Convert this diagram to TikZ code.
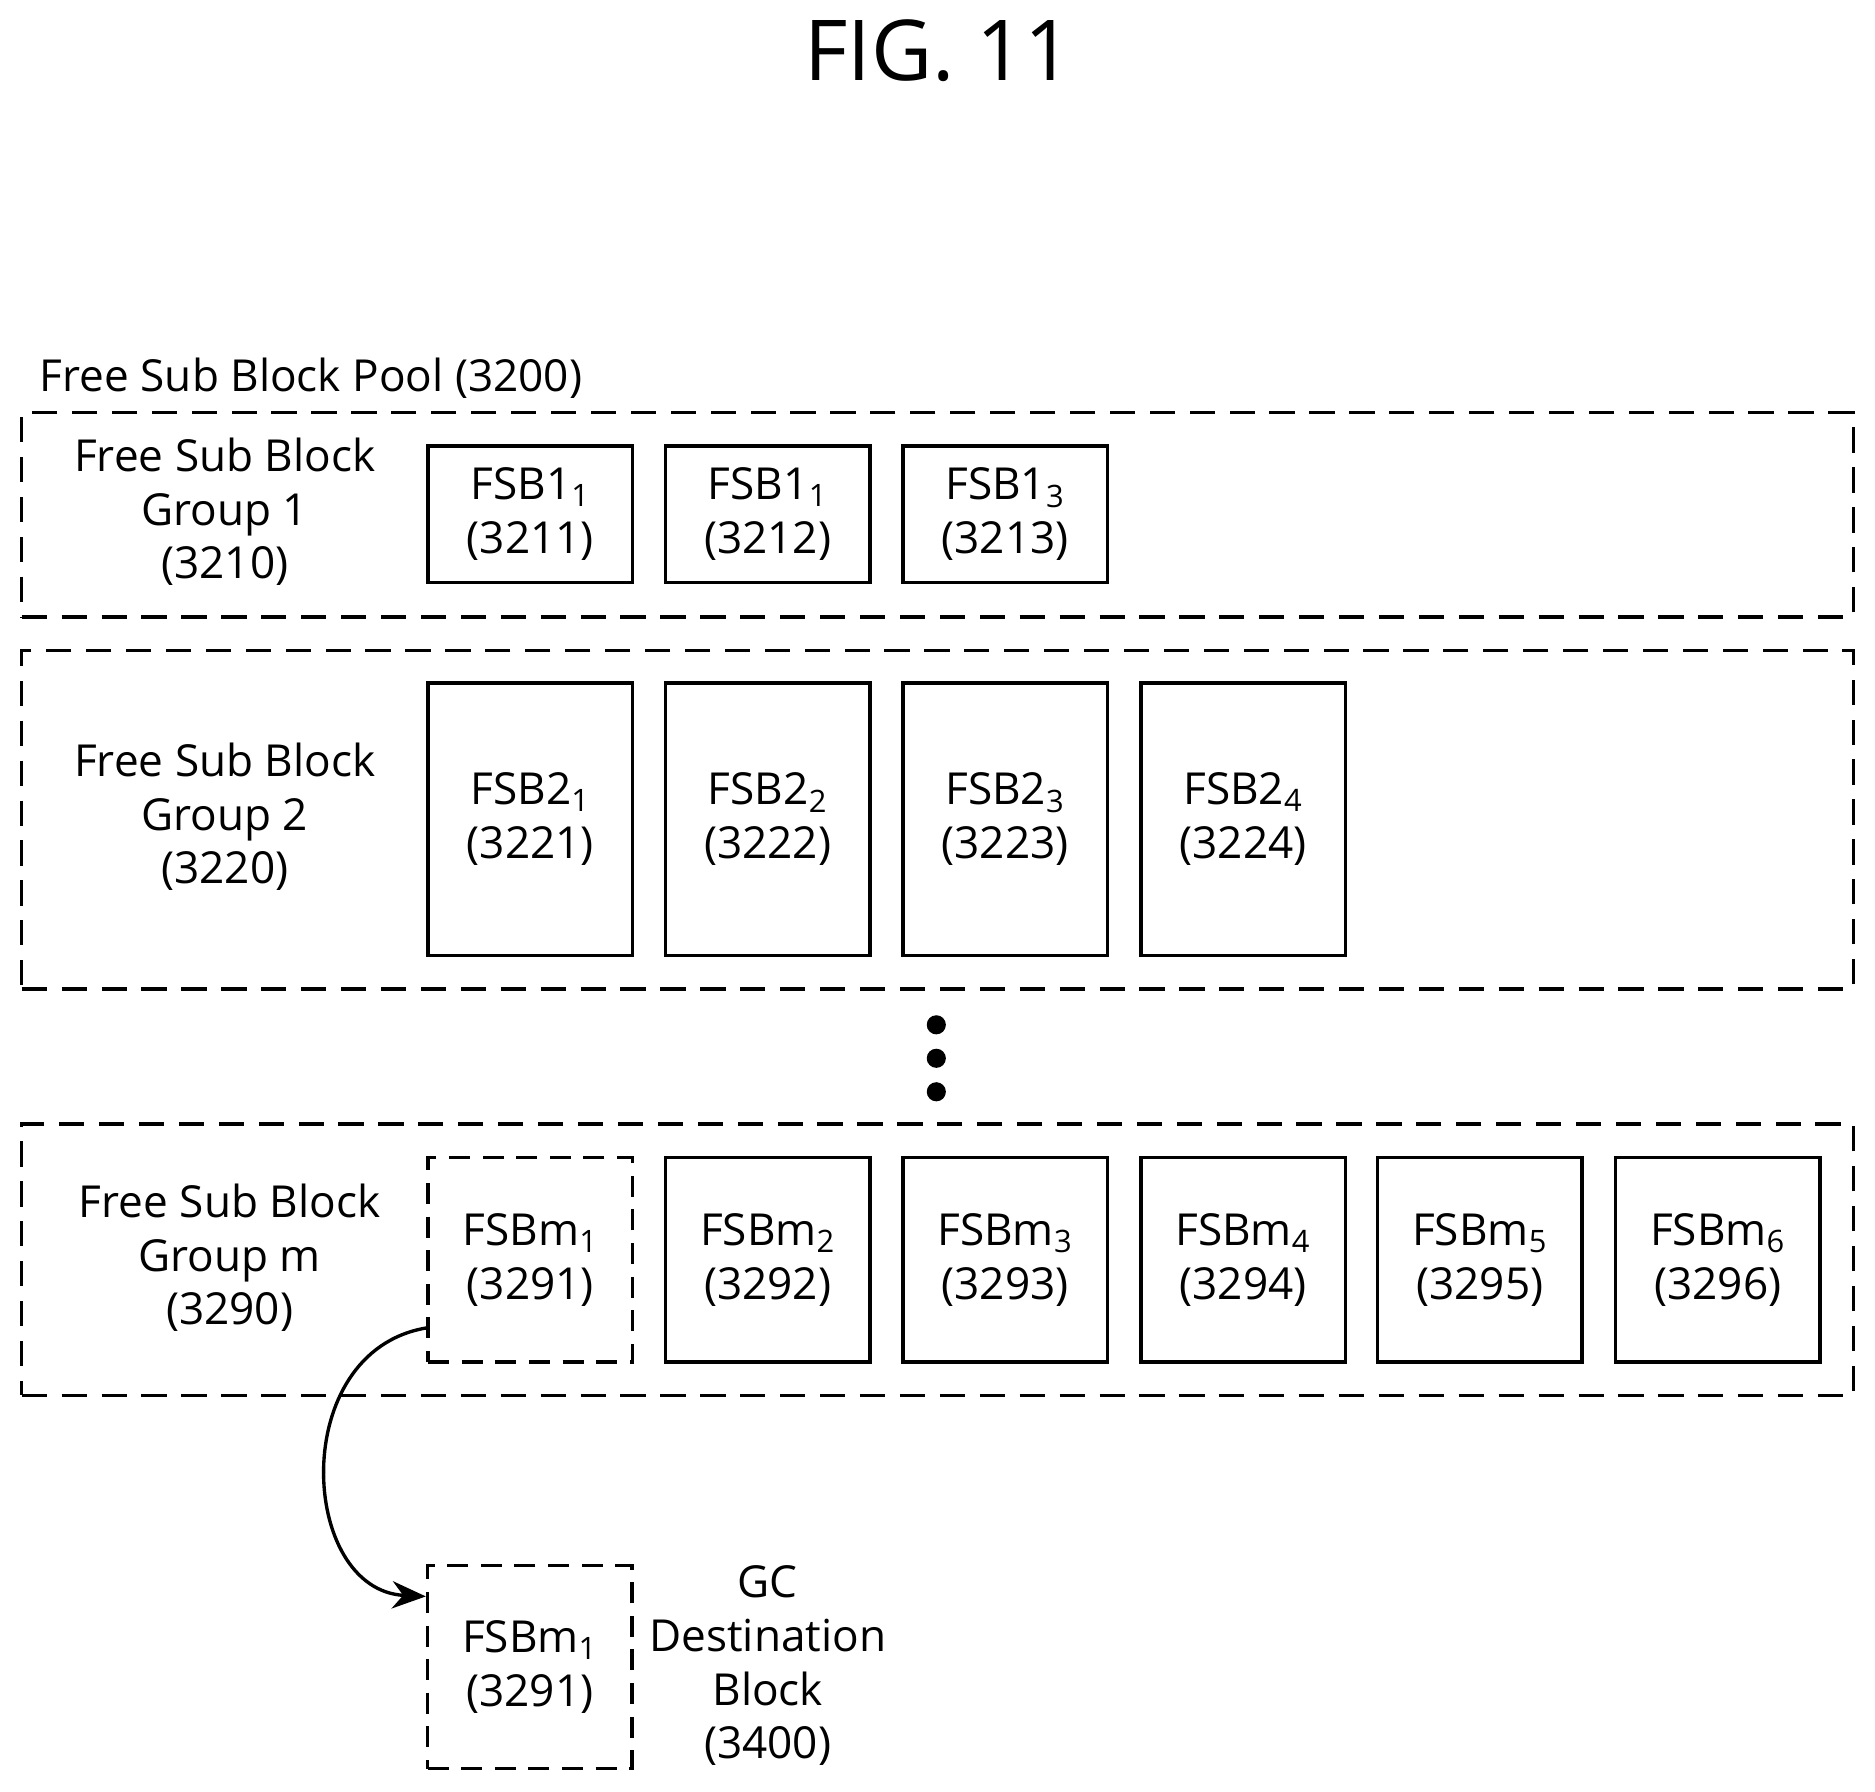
\documentclass[tikz,border=0pt]{standalone}
\usepackage{fontspec}
\setmainfont{Open Sans}
\usetikzlibrary{arrows.meta}
\begin{document}
\begin{tikzpicture}[x=0.02cm,y=-0.02cm,
  every node/.style={font=\fontsize{21}{25.5}\selectfont, align=center, inner sep=0},
  box/.style={draw, line width=1.6pt, minimum width=3.42cm},
  dbox/.style={box, dash pattern=on 10pt off 6pt},
  grp/.style={draw, line width=1.6pt, dash pattern=on 12pt off 7pt, minimum width=30.64cm},
  s/.style={}]
\useasboundingbox (0,0) rectangle (1568,1498);
\node (title) at (785,42) {\fontsize{40}{44}\selectfont FIG. 11};
\node[anchor=west] (pool) at (33,316) {Free Sub Block Pool (3200)};
% groups
\node[grp, minimum height=3.42cm] (g1) at (784,430.5) {};
\node[grp, minimum height=5.66cm] (g2) at (784,685.5) {};
\node[grp, minimum height=4.54cm] (gm) at (784,1053.5) {};
\node (g1l) at (188,428) {Free Sub Block\\Group 1\\(3210)};
\node (g2l) at (188,683) {Free Sub Block\\Group 2\\(3220)};
\node (gml) at (192,1052) {Free Sub Block\\Group m\\(3290)};
% group 1
\node[box, minimum height=2.28cm] (b11) at (443.5,430) {FSB1\textsubscript{1}\\(3211)};
\node[box, minimum height=2.28cm] (b12) at (642,430) {FSB1\textsubscript{1}\\(3212)};
\node[box, minimum height=2.28cm] (b13) at (840.5,430) {FSB1\textsubscript{3}\\(3213)};
% group 2
\node[box, minimum height=4.56cm] (b21) at (443.5,685) {FSB2\textsubscript{1}\\(3221)};
\node[box, minimum height=4.56cm] (b22) at (642,685) {FSB2\textsubscript{2}\\(3222)};
\node[box, minimum height=4.56cm] (b23) at (840.5,685) {FSB2\textsubscript{3}\\(3223)};
\node[box, minimum height=4.56cm] (b24) at (1039.5,685) {FSB2\textsubscript{4}\\(3224)};
% dots
\foreach \yy/\n in {857/d1,885/d2,913/d3} \fill (783,\yy) circle (8);
% group m
\node[dbox, minimum height=3.42cm] (m1) at (443.5,1053.5) {FSBm\textsubscript{1}\\(3291)};
\node[box, minimum height=3.42cm] (m2) at (642,1053.5) {FSBm\textsubscript{2}\\(3292)};
\node[box, minimum height=3.42cm] (m3) at (840.5,1053.5) {FSBm\textsubscript{3}\\(3293)};
\node[box, minimum height=3.42cm] (m4) at (1039.5,1053.5) {FSBm\textsubscript{4}\\(3294)};
\node[box, minimum height=3.42cm] (m5) at (1237.5,1053.5) {FSBm\textsubscript{5}\\(3295)};
\node[box, minimum height=3.42cm] (m6) at (1436.5,1053.5) {FSBm\textsubscript{6}\\(3296)};
% destination
\node[dbox, minimum height=3.4cm] (dest) at (443,1394) {FSBm\textsubscript{1}\\(3291)};
\node (destl) at (642,1393) {GC\\Destination\\Block\\(3400)};
\coordinate (cs) at ([yshift=-1.14cm]m1.west);
\coordinate (ce) at ([yshift=1.18cm]dest.west);
\draw[line width=1.6pt, -{Stealth[length=16pt,width=13pt]}] (cs) .. controls (240,1130) and (250,1330) .. (ce);
\end{tikzpicture}
\end{document}
